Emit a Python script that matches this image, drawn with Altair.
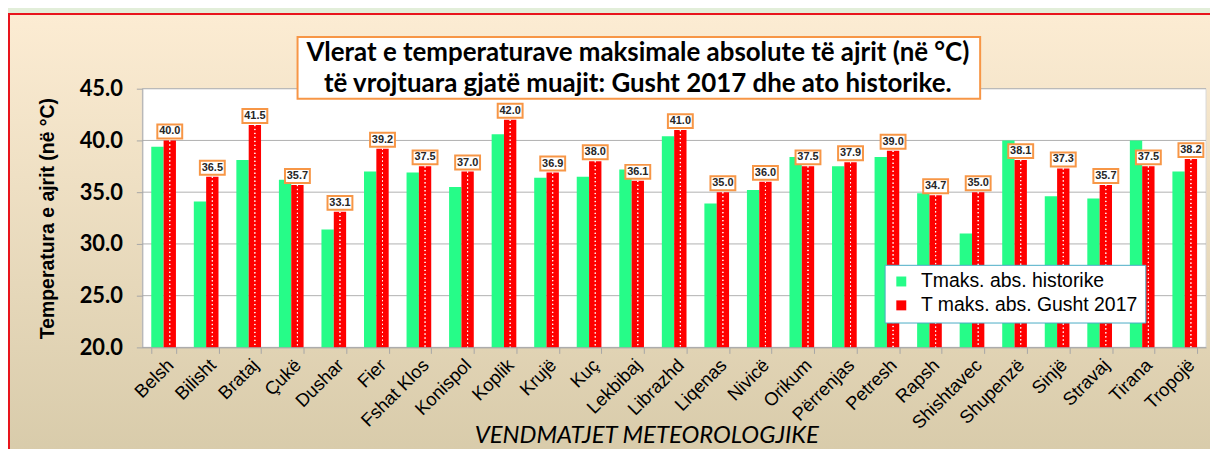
import altair as alt
import pandas as pd

stations = ["Belsh", "Bilisht", "Brataj", "Çukë", "Dushar", "Fier", "Fshat Klos",
            "Konispol", "Koplik", "Krujë", "Kuç", "Lekbibaj", "Librazhd", "Liqenas",
            "Nivicë", "Orikum", "Përrenjas", "Petresh", "Rapsh", "Shishtavec",
            "Shupenzë", "Sinjë", "Stravaj", "Tirana", "Tropojë"]
hist_max = [39.4, 34.1, 38.1, 36.2, 31.4, 37.0, 36.9, 35.5, 40.6, 36.4, 36.5, 37.2,
            40.4, 33.9, 35.2, 38.4, 37.5, 38.4, 34.9, 31.0, 40.0, 34.6, 34.4, 40.0, 37.0]
aug2017_max = [40.0, 36.5, 41.5, 35.7, 33.1, 39.2, 37.5, 37.0, 42.0, 36.9, 38.0, 36.1,
               41.0, 35.0, 36.0, 37.5, 37.9, 39.0, 34.7, 35.0, 38.1, 37.3, 35.7, 37.5, 38.2]
series_names = ["Tmaks. abs. historike", "T maks. abs. Gusht 2017"]
series_colors = ["#26fc88", "#ff0000"]
y_ticks = [20, 25, 30, 35, 40, 45]
title_lines = ["Vlerat e temperaturave maksimale absolute të ajrit (në °C)",
               "të vrojtuara gjatë muajit: Gusht 2017 dhe ato historike."]
x_title = "VENDMATJET  METEOROLOGJIKE"
y_title = "Temperatura e ajrit (në °C)"

rows = []
for s, h, a in zip(stations, hist_max, aug2017_max):
    rows.append({"station": s, "series": series_names[0], "value": h})
    rows.append({"station": s, "series": series_names[1], "value": a})
df = pd.DataFrame(rows)
grid_df = pd.DataFrame({"value": y_ticks})
one = pd.DataFrame({"k": [0]})

W, H = 1069, 260

x_axis = alt.Axis(title=None, labelAngle=315, labelAlign="right", labelBaseline="top",
                  labelFont="Liberation Sans", labelFontSize=18.5,
                  labelColor="black", labelPadding=2, tickBand="extent", tickSize=6,
                  tickColor="#a6a6a6", domainColor="#a6a6a6", zindex=1)
y_axis = alt.Axis(values=y_ticks, format=".1f", labelFont="Lato", labelFontWeight="bold",
                  labelFontSize=22, labelColor="black", labelPadding=14, tickSize=6,
                  tickColor="#a6a6a6", domainColor="#a6a6a6", grid=False,
                  title=y_title, titleFont="Liberation Sans", titleFontWeight="bold",
                  titleFontSize=19.5, titleColor="black", titlePadding=22, zindex=1)

X = alt.X("station:N", sort=stations, axis=x_axis,
          scale=alt.Scale(paddingInner=0.42, paddingOuter=0.21))
XO = alt.XOffset("series:N", sort=series_names, scale=alt.Scale(paddingInner=0, paddingOuter=0))
Y = alt.Y("value:Q", axis=y_axis, scale=alt.Scale(domain=[20, 45], nice=False, zero=False))
Y2 = alt.Y2(datum=20)

panel = alt.Chart(one).mark_rect(
    fill=alt.Gradient(gradient="linear",
                      stops=[alt.GradientStop(color="#fcecd3", offset=0),
                             alt.GradientStop(color="#d8cbaa", offset=1)],
                      x1=0, x2=0, y1=0, y2=1),
    stroke="#e8141c", strokeWidth=2
).encode(x=alt.value(-134), x2=alt.value(W + 20), y=alt.value(-75), y2=alt.value(H + 110))

plot_bg = alt.Chart(one).mark_rect(fill="white", stroke="#d9d9d9", strokeWidth=1).encode(
    x=alt.value(0), x2=alt.value(W), y=alt.value(0), y2=alt.value(H))

grid = alt.Chart(grid_df).mark_rule(color="#b0b0b0", strokeWidth=1).encode(y=Y)

bars = alt.Chart(df).mark_bar().encode(
    x=X, xOffset=XO, y=Y, y2=Y2,
    color=alt.Color("series:N", sort=series_names,
                    scale=alt.Scale(domain=series_names, range=series_colors),
                    legend=alt.Legend(title=None, orient="none", legendX=746, legendY=177,
                                      fillColor="white", strokeColor="#4bacc6", padding=7,
                                      labelFont="Liberation Sans", labelFontSize=19.5,
                                      labelColor="black", labelLimit=400, symbolType="square",
                                      symbolSize=100, symbolStrokeWidth=0, rowPadding=3,
                                      labelOffset=10, zindex=1)),
)

red_df_filter = alt.datum.series == series_names[1]
dots = [
    alt.Chart(df).transform_filter(red_df_filter).mark_rule(
        color="white", strokeWidth=1, strokeDash=[1.2, 2.8], opacity=0.85, xOffset=dx
    ).encode(x=X, xOffset=XO, y=Y, y2=Y2)
    for dx in (-4, 0, 4)
]

box_path = "M-1.786,-1L1.786,-1L1.786,1L-1.786,1Z"
label_box = alt.Chart(df).transform_filter(red_df_filter).mark_point(
    shape=box_path, size=196, filled=True, fill="white", stroke="#f79646",
    strokeWidth=2, opacity=1, yOffset=-9
).encode(x=X, xOffset=XO, y=Y)

label_text = alt.Chart(df).transform_filter(red_df_filter).mark_text(
    font="Liberation Sans", fontWeight="bold", fontSize=11, color="#262626",
    baseline="middle", align="center", dy=-9
).encode(x=X, xOffset=XO, y=Y, text=alt.Text("value:Q", format=".1f"))

title_box = alt.Chart(one).mark_rect(fill="white", stroke="#f79646", strokeWidth=2).encode(
    x=alt.value(156), x2=alt.value(842), y=alt.value(-52), y2=alt.value(10))
title1 = alt.Chart(one).mark_text(font="Lato", fontWeight="bold", fontSize=26, color="black",
                                  align="center", baseline="middle").encode(
    x=alt.value(498), y=alt.value(-36), text=alt.value(title_lines[0]))
title2 = alt.Chart(one).mark_text(font="Lato", fontWeight="bold", fontSize=26, color="black",
                                  align="center", baseline="middle").encode(
    x=alt.value(498), y=alt.value(-5), text=alt.value(title_lines[1]))

xtitle = alt.Chart(one).mark_text(font="Lato", fontStyle="italic", fontSize=24, color="black",
                                  align="center", baseline="alphabetic").encode(
    x=alt.value(507), y=alt.value(356), text=alt.value(x_title))

chart = alt.layer(
    panel, plot_bg, grid, bars, *dots, label_box, label_text, title_box, title1, title2, xtitle
).properties(
    width=W, height=H,
    autosize=alt.AutoSizeParams(type="none"),
    padding={"left": 135, "top": 80, "right": 4, "bottom": 101},
).configure(background="#e2eed9").configure_view(stroke=None)

chart.save("out.html", embed_options={"renderer": "svg", "actions": False})
